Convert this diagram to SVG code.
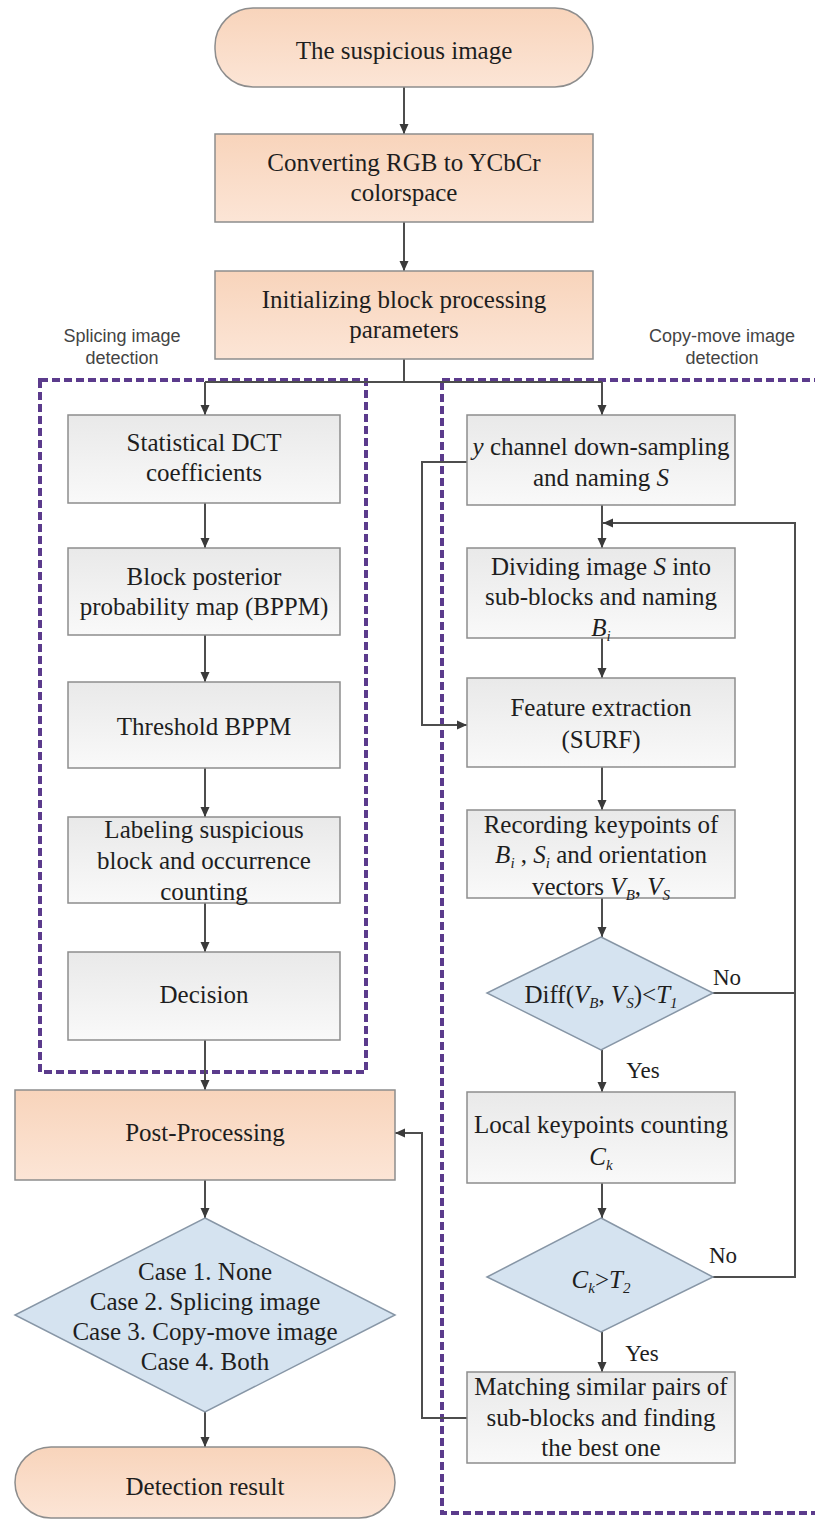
<svg xmlns="http://www.w3.org/2000/svg" width="815" height="1519" viewBox="0 0 815 1519">
<defs>
<linearGradient id="gPeach" x1="0" y1="0" x2="0" y2="1"><stop offset="0" stop-color="#F8D4BB"/><stop offset="1" stop-color="#FCE5D6"/></linearGradient>
<linearGradient id="gGray" x1="0" y1="0" x2="0" y2="1"><stop offset="0" stop-color="#E9E9E9"/><stop offset="1" stop-color="#F9F9F9"/></linearGradient>
<marker id="ah" markerWidth="10" markerHeight="10" refX="10" refY="5" orient="auto" markerUnits="userSpaceOnUse"><path d="M0,0.5 L10,5 L0,9.5 z" fill="#3a3a3a"/></marker>
<style>
.t{font-family:'Liberation Serif','Tinos','DejaVu Serif',serif;font-size:25px;fill:#1e1e1e;text-anchor:middle}
.lbl{font-family:'Liberation Sans',Arial,sans-serif;font-size:18px;fill:#444;text-anchor:middle}
.yn{font-family:'Liberation Serif','Tinos','DejaVu Serif',serif;font-size:23px;fill:#1e1e1e;text-anchor:middle}
.peach{fill:url(#gPeach);stroke:#8d8d8d;stroke-width:1.5}
.gray{fill:url(#gGray);stroke:#8d8d8d;stroke-width:1.5}
.dia{fill:#D5E3F0;stroke:#8796a6;stroke-width:1.5}
.dash{fill:none;stroke:#5B3B8C;stroke-width:4;stroke-dasharray:8 4}
.c{fill:none;stroke:#4d4d4d;stroke-width:2}
.ca{fill:none;stroke:#4d4d4d;stroke-width:2;marker-end:url(#ah)}
.i{font-style:italic}
.s{font-size:15px;font-style:italic}
</style>
</defs>
<rect width="815" height="1519" fill="#ffffff"/>

<g id="regions">
<rect class="dash" x="40" y="380" width="326" height="692"/>
<rect class="dash" x="442" y="380" width="420" height="1133"/>
<text class="lbl" x="122" y="342">Splicing image</text>
<text class="lbl" x="122" y="364">detection</text>
<text class="lbl" x="722" y="342">Copy-move image</text>
<text class="lbl" x="722" y="364">detection</text>
</g>

<g id="connectors">
<line class="ca" x1="404" y1="87" x2="404" y2="134"/>
<line class="ca" x1="404" y1="222" x2="404" y2="271"/>
<polyline class="c" points="404,359 404,382"/>
<line class="c" x1="205" y1="382" x2="602" y2="382"/>
<line class="ca" x1="205" y1="382" x2="205" y2="415"/>
<line class="ca" x1="602" y1="382" x2="602" y2="415"/>
<line class="ca" x1="205" y1="503" x2="205" y2="548"/>
<line class="ca" x1="205" y1="635" x2="205" y2="682"/>
<line class="ca" x1="205" y1="768" x2="205" y2="817"/>
<line class="ca" x1="205" y1="903" x2="205" y2="952"/>
<line class="ca" x1="205" y1="1040" x2="205" y2="1090"/>
<line class="ca" x1="205" y1="1180" x2="205" y2="1218"/>
<line class="ca" x1="205" y1="1412" x2="205" y2="1447"/>
<line class="ca" x1="602" y1="505" x2="602" y2="548"/>
<line class="ca" x1="602" y1="638" x2="602" y2="678"/>
<line class="ca" x1="602" y1="767" x2="602" y2="810"/>
<line class="ca" x1="602" y1="898" x2="602" y2="937"/>
<line class="ca" x1="602" y1="1050" x2="602" y2="1092"/>
<line class="ca" x1="602" y1="1183" x2="602" y2="1218"/>
<line class="ca" x1="602" y1="1332" x2="602" y2="1372"/>
<polyline class="ca" points="713,993 795,993 795,523 603,523"/>
<polyline class="c" points="713,1277 795,1277 795,993"/>
<polyline class="ca" points="467,462 422,462 422,725 467,725"/>
<polyline class="ca" points="467,1418 422,1418 422,1133 395,1133"/>
<text class="yn" x="727" y="985">No</text>
<text class="yn" x="643" y="1078">Yes</text>
<text class="yn" x="723" y="1263">No</text>
<text class="yn" x="642" y="1361">Yes</text>
</g>

<g id="n_start">
<rect class="peach" x="215" y="8" width="378" height="79" rx="38" ry="38"/>
<text class="t" x="404" y="59">The suspicious image</text>
</g>
<g id="n_convert">
<rect class="peach" x="215" y="134" width="378" height="88"/>
<text class="t" x="404" y="171">Converting RGB to YCbCr</text>
<text class="t" x="404" y="201">colorspace</text>
</g>
<g id="n_init">
<rect class="peach" x="215" y="271" width="378" height="88"/>
<text class="t" x="404" y="308">Initializing block processing</text>
<text class="t" x="404" y="338">parameters</text>
</g>

<g id="n_dct">
<rect class="gray" x="68" y="415" width="272" height="88"/>
<text class="t" x="204" y="451">Statistical DCT</text>
<text class="t" x="204" y="481">coefficients</text>
</g>
<g id="n_bppm">
<rect class="gray" x="68" y="548" width="272" height="87"/>
<text class="t" x="204" y="585">Block posterior</text>
<text class="t" x="204" y="615">probability map (BPPM)</text>
</g>
<g id="n_thr">
<rect class="gray" x="68" y="682" width="272" height="86"/>
<text class="t" x="204" y="735">Threshold BPPM</text>
</g>
<g id="n_label">
<rect class="gray" x="68" y="817" width="272" height="86"/>
<text class="t" x="204" y="838">Labeling suspicious</text>
<text class="t" x="204" y="869">block and occurrence</text>
<text class="t" x="204" y="900">counting</text>
</g>
<g id="n_decision">
<rect class="gray" x="68" y="952" width="272" height="88"/>
<text class="t" x="204" y="1003">Decision</text>
</g>
<g id="n_post">
<rect class="peach" x="15" y="1090" width="380" height="90"/>
<text class="t" x="205" y="1141">Post-Processing</text>
</g>
<g id="n_cases">
<polygon class="dia" points="205,1218 395,1315 205,1412 15,1315"/>
<text class="t" x="205" y="1280">Case 1. None</text>
<text class="t" x="205" y="1310">Case 2. Splicing image</text>
<text class="t" x="205" y="1340">Case 3. Copy-move image</text>
<text class="t" x="205" y="1370">Case 4. Both</text>
</g>
<g id="n_result">
<rect class="peach" x="15" y="1447" width="380" height="71" rx="36" ry="36"/>
<text class="t" x="205" y="1495">Detection result</text>
</g>

<g id="n_ychan">
<rect class="gray" x="467" y="415" width="268" height="90"/>
<text class="t" x="601" y="455"><tspan class="i">y</tspan> channel down-sampling</text>
<text class="t" x="601" y="486">and naming <tspan class="i">S</tspan></text>
</g>
<g id="n_divide">
<rect class="gray" x="467" y="548" width="268" height="90"/>
<text class="t" x="601" y="575">Dividing image <tspan class="i">S</tspan> into</text>
<text class="t" x="601" y="605">sub-blocks and naming</text>
<text class="t" x="601" y="636"><tspan class="i">B</tspan><tspan class="s" dy="5">i</tspan></text>
</g>
<g id="n_surf">
<rect class="gray" x="467" y="678" width="268" height="89"/>
<text class="t" x="601" y="716">Feature extraction</text>
<text class="t" x="601" y="748">(SURF)</text>
</g>
<g id="n_record">
<rect class="gray" x="467" y="810" width="268" height="88"/>
<text class="t" x="601" y="833">Recording keypoints of</text>
<text class="t" x="601" y="863"><tspan class="i">B</tspan><tspan class="s" dy="5">i</tspan><tspan dy="-5"> , </tspan><tspan class="i">S</tspan><tspan class="s" dy="5">i</tspan><tspan dy="-5"> and orientation</tspan></text>
<text class="t" x="601" y="895">vectors <tspan class="i">V</tspan><tspan class="s" dy="5">B</tspan><tspan dy="-5">, </tspan><tspan class="i">V</tspan><tspan class="s" dy="5">S</tspan></text>
</g>
<g id="n_diff">
<polygon class="dia" points="601,937 713,993 601,1050 487,993"/>
<text class="t" x="601" y="1003">Diff(<tspan class="i">V</tspan><tspan class="s" dy="5">B</tspan><tspan dy="-5">, </tspan><tspan class="i">V</tspan><tspan class="s" dy="5">S</tspan><tspan dy="-5">)&lt;</tspan><tspan class="i">T</tspan><tspan class="s" dy="5">1</tspan></text>
</g>
<g id="n_local">
<rect class="gray" x="467" y="1092" width="268" height="91"/>
<text class="t" x="601" y="1133">Local keypoints counting</text>
<text class="t" x="601" y="1165"><tspan class="i">C</tspan><tspan class="s" dy="5">k</tspan></text>
</g>
<g id="n_ck">
<polygon class="dia" points="601,1218 713,1277 601,1332 487,1277"/>
<text class="t" x="601" y="1288"><tspan class="i">C</tspan><tspan class="s" dy="5">k</tspan><tspan dy="-5">&gt;</tspan><tspan class="i">T</tspan><tspan class="s" dy="5">2</tspan></text>
</g>
<g id="n_match">
<rect class="gray" x="467" y="1372" width="268" height="91"/>
<text class="t" x="601" y="1395">Matching similar pairs of</text>
<text class="t" x="601" y="1426">sub-blocks and finding</text>
<text class="t" x="601" y="1456">the best one</text>
</g>
</svg>
